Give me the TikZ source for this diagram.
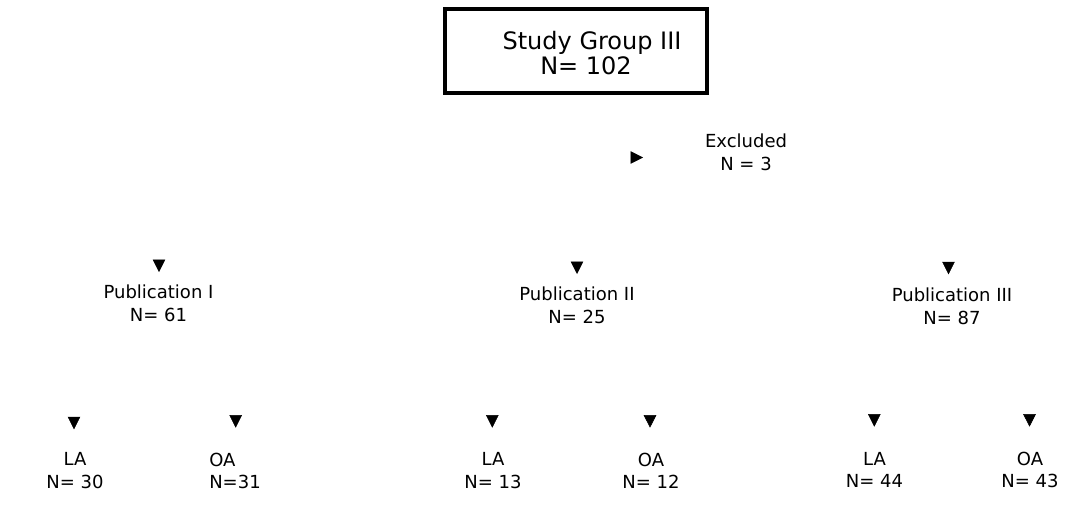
\documentclass[tikz,border=0pt]{standalone}
\usepackage{fontspec}
\setmainfont{DejaVu Sans}
\usetikzlibrary{arrows.meta}
\begin{document}
\begin{tikzpicture}[x=1pt,y=-1pt,
  conn/.style={draw=white, line width=0.5pt},
  arr/.style={conn, -{Triangle[width=12.5pt,length=12.5pt,color=black,fill=black]}},
  txt/.style={font=\fontsize{18}{22.5}\selectfont, align=center, inner sep=0pt, outer sep=0pt},
  topbox/.style={draw=black, line width=4pt, minimum width=262pt, minimum height=84pt, inner sep=0pt, outer sep=2.5pt},
  toptxt/.style={font=\fontsize{24}{24}\selectfont, align=center, inner sep=0pt, outer sep=0pt},
  pubbox/.style={txt, minimum width=154pt},
  leafbox/.style={txt, minimum width=120pt}]
\useasboundingbox (0,0) rectangle (1091,509);
% top box
\node[topbox] (top) at (576,51) {};
\node[toptxt] (toptext) at (592,53.2) {Study Group III\\[0.5pt]N= 102\kern12pt};
% excluded
\node[txt, minimum width=206pt, minimum height=56pt] (ex) at (746,152.1) {Excluded\\[1pt]N = 3};
% publications
\node[pubbox, minimum height=62.8pt] (p1) at (158.5,303.4) {Publication I\\N= 61};
\node[pubbox, minimum height=62.8pt] (p2) at (577,305.4) {Publication II\\N= 25};
\node[pubbox, minimum height=63.6pt] (p3) at (952,306.1) {Publication III\\N= 87};
% leaves
\node[leafbox, minimum height=82.8pt] (la1) at (75,470.7) {LA\\N= 30};
\node[leafbox, minimum height=86pt, align=left] (oa1) at (235,470.7) {OA\\N=31};
\node[leafbox, minimum height=86pt] (la2) at (493,470.7) {LA\\N= 13};
\node[leafbox, minimum height=86pt] (oa2) at (651,470.7) {OA\\N= 12};
\node[leafbox, minimum height=86pt] (la3) at (874.5,469.7) {LA\\N= 44};
\node[leafbox, minimum height=86pt] (oa3) at (1030,469.7) {OA\\N= 43};
% junction coordinates
\coordinate (ex0) at (577,157.5);
\coordinate (j0) at (577,204);
\coordinate (j1) at (159,204);
\coordinate (j3) at (948.5,204);
\coordinate (k1) at (159,380);
\coordinate (k1a) at (74,380);
\coordinate (k1b) at (235.7,380);
\coordinate (k2) at (575,380);
\coordinate (k2a) at (492.3,380);
\coordinate (k2b) at (650,380);
\coordinate (k3) at (948.5,380);
\coordinate (k3a) at (874.3,380);
\coordinate (k3b) at (1029.5,380);
% connectors (lines are invisible in the reference, only the heads show)
\draw[conn] (top.south -| j0) -- (j0);
\draw[arr] (ex0) -- (ex0 -| ex.west);
\draw[conn] (j1) -- (j3);
\draw[arr] (j1) -- (j1 |- p1.north);
\draw[arr] (j0) -- (j0 |- p2.north);
\draw[arr] (j3) -- (j3 |- p3.north);
\draw[conn] (p1.south -| k1) -- (k1);
\draw[conn] (p2.south -| k2) -- (k2);
\draw[conn] (p3.south -| k3) -- (k3);
\draw[conn] (k1a) -- (k1b);
\draw[conn] (k2a) -- (k2b);
\draw[conn] (k3a) -- (k3b);
\draw[arr] (k1a) -- (k1a |- la1.north);
\draw[arr] (k1b) -- (k1b |- oa1.north);
\draw[arr] (k2a) -- (k2a |- la2.north);
\draw[arr] (k2b) -- (k2b |- oa2.north);
\draw[arr] (k3a) -- (k3a |- la3.north);
\draw[arr] (k3b) -- (k3b |- oa3.north);
\end{tikzpicture}
\end{document}
